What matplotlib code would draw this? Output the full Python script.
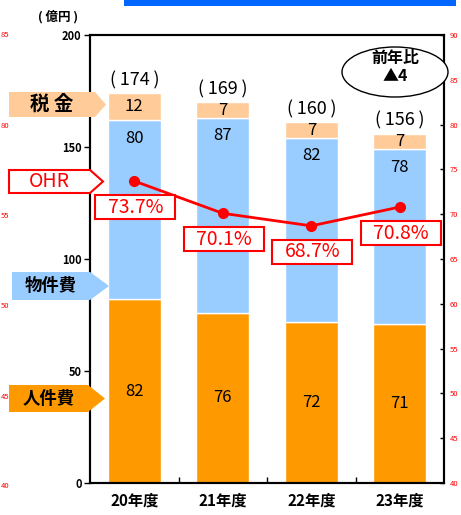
import matplotlib
matplotlib.use('Agg')
import matplotlib.pyplot as plt
from matplotlib.patches import Polygon, Ellipse, Rectangle
from matplotlib.transforms import IdentityTransform

plt.rcParams['font.family'] = ['Noto Sans CJK JP', 'DejaVu Sans']

# ---- data ----
years = ['20年度', '21年度', '22年度', '23年度']
personnel = [82, 76, 72, 71]      # 人件費
material = [80, 87, 82, 78]       # 物件費
tax = [12, 7, 7, 7]               # 税金
totals_label = ['174', '169', '160', '156']
ohr = [73.7, 70.1, 68.7, 70.8]
left_ticks = [0, 50, 100, 150, 200]
right_ticks = [40, 45, 50, 55, 60, 65, 70, 75, 80, 85, 90]
left_red_labels = ['85', '80', '55', '50', '45', '40']

W, H = 461, 515
fig = plt.figure(figsize=(W / 100, H / 100), dpi=100)
ax = fig.add_axes([90 / W, 1 - 483 / H, 354 / W, 448 / H])

C_ORANGE = '#FF9900'
C_BLUE = '#99CCFF'
C_PEACH = '#FFCC99'
RED = '#FF0000'

x = list(range(len(years)))
bottom2 = personnel
bottom3 = [a + b for a, b in zip(personnel, material)]
ax.bar(x, personnel, width=0.6, color=C_ORANGE, edgecolor='white', lw=1, zorder=2)
ax.bar(x, material, width=0.6, bottom=bottom2, color=C_BLUE, edgecolor='white', lw=1, zorder=2)
ax.bar(x, tax, width=0.6, bottom=bottom3, color=C_PEACH, edgecolor='white', lw=1, zorder=2)

ax.set_xlim(-0.5, 3.5)
ax.set_ylim(0, 200)
ax.set_yticks(left_ticks)
ax.tick_params(axis='y', direction='out', length=4, width=1, labelsize=8, pad=2)
for t in ax.get_yticklabels():
    t.set_fontweight('bold')
ax.set_xticks(x)
ax.set_xticklabels(years, fontsize=11, fontweight='bold')
ax.tick_params(axis='x', length=0, pad=7)
ax.set_xticks([0.5, 1.5, 2.5], minor=True)
ax.tick_params(axis='x', which='minor', direction='in', length=4, width=1)
for s in ax.spines.values():
    s.set_linewidth(1.5)

# segment labels
for i in x:
    ax.text(i, personnel[i] / 2, str(personnel[i]), ha='center', va='center', fontsize=12, zorder=5)
    ax.text(i, bottom3[i] - 8, str(material[i]), ha='center', va='center', fontsize=12, zorder=5)
    ax.text(i, bottom3[i] + tax[i] / 2, str(tax[i]), ha='center', va='center', fontsize=12, zorder=5)
    ax.annotate(f'(\u2009{totals_label[i]}\u2009)', (i, bottom3[i] + tax[i]), xytext=(0, 13),
                textcoords='offset pixels', ha='center', va='center', fontsize=13)

# OHR line
ax2 = ax.twinx()
ax2.set_ylim(40, 90)
ax2.set_yticks(right_ticks)
ax2.tick_params(axis='y', direction='in', length=3, width=1, labelsize=5.5,
                labelcolor=RED, pad=4)
for s in ax2.spines.values():
    s.set_linewidth(1.5)
ax2.plot(x, ohr, color=RED, lw=2, marker='o', markersize=7, zorder=6)

ident = IdentityTransform()
for i in x:
    px, py = ax2.transData.transform((i, ohr[i]))
    cx, cy = px + 1, py - 26
    fig.add_artist(Rectangle((cx - 40, cy - 12), 80, 24, transform=ident,
                             facecolor='white', edgecolor=RED, lw=1.5, zorder=7))
    fig.text(cx / W, cy / H, f'{ohr[i]}%', ha='center', va='center',
             fontsize=14, color=RED, zorder=8)

def fp(px, py):
    return (px / W, 1 - py / H)

# left arrow labels
def arrow(x0, x1, xp, y0, y1, fc, ec, label, tcolor, weight, size):
    ym = (y0 + y1) / 2
    pts = [fp(x0, y0), fp(x1, y0), fp(xp, ym), fp(x1, y1), fp(x0, y1)]
    fig.add_artist(Polygon(pts, closed=True, transform=fig.transFigure,
                           facecolor=fc, edgecolor=ec, lw=1.5 if ec != 'none' else 0, zorder=5))
    tx, ty = fp((x0 + x1) / 2, ym)
    fig.text(tx, ty, label, ha='center', va='center', color=tcolor,
             fontweight=weight, fontsize=size, zorder=6)

arrow(9, 95, 106, 92, 117, C_PEACH, 'none', '税 金', 'black', 'bold', 14)
arrow(9, 90, 103, 170, 193, 'white', RED, 'OHR', RED, 'normal', 14)
arrow(12, 90, 109, 272, 300, C_BLUE, 'none', '物件費', 'black', 'bold', 12.5)
arrow(9, 88, 105, 385, 412, C_ORANGE, 'none', '人件費', 'black', 'bold', 12.5)

# left red residual labels
for lab, yy in zip(left_red_labels, [35, 126, 216, 306, 397, 486]):
    fig.text(1 / W, 1 - yy / H, lab, ha='left', va='center', fontsize=5.5, color=RED)

# unit label
fig.text(*fp(58, 17), '( 億円 )', ha='center', va='center', fontsize=9, fontweight='bold')

# top blue bar
fig.add_artist(Rectangle(fp(124, 6), 332 / W, 6 / H, transform=fig.transFigure,
                         facecolor='#0066FF', edgecolor='none', zorder=5))

# ellipse
fig.add_artist(Ellipse(fp(395, 72), 106 / W, 50 / H, transform=fig.transFigure,
                       facecolor='white', edgecolor='black', lw=1, zorder=5))
fig.text(*fp(395, 58), '前年比', ha='center', va='center', fontsize=11.5, fontweight='bold', zorder=6)
fig.text(*fp(395, 76), '▲4', ha='center', va='center', fontsize=11.5, fontweight='bold', zorder=6)

fig.savefig('out.png', dpi=100)
